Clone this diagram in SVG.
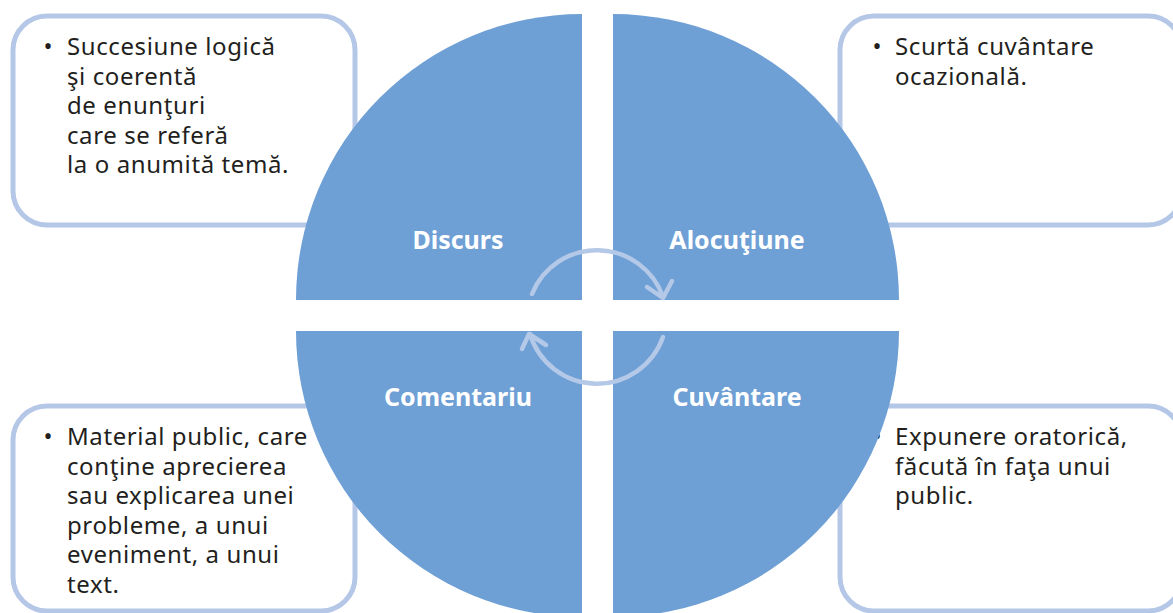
<svg xmlns="http://www.w3.org/2000/svg" width="1173" height="613" viewBox="0 0 1173 613">
<style>
.box{fill:#ffffff;stroke:#b4c7e7;stroke-width:5}
.quad{fill:#6e9fd5}
.body{font-family:"Noto Sans","Open Sans","DejaVu Sans",sans-serif;font-size:24px;letter-spacing:0.6px;fill:#231f20}
.bul{text-anchor:middle;letter-spacing:0}
.label{font-family:"Noto Sans","Open Sans","DejaVu Sans",sans-serif;font-size:25px;font-weight:bold;fill:#ffffff;text-anchor:middle}
.cyc{fill:none;stroke:#b4c8e8;stroke-width:4.5;stroke-linecap:round;stroke-linejoin:round}
</style>
<rect width="1173" height="613" fill="#ffffff"/>
<g id="box-discurs">
<rect class="box" x="13" y="16" width="342" height="209" rx="34"/>
<text class="body"><tspan class="bul" x="48" y="55">•</tspan><tspan x="67" y="55">Succesiune logică</tspan><tspan x="67" y="84.5">şi coerentă</tspan><tspan x="67" y="114">de enunţuri</tspan><tspan x="67" y="143.5">care se referă</tspan><tspan x="67" y="173">la o anumită temă.</tspan></text>
</g>
<g id="box-alocutiune">
<rect class="box" x="840" y="16" width="342" height="209" rx="34"/>
<text class="body"><tspan class="bul" x="877" y="55">•</tspan><tspan x="895" y="55">Scurtă cuvântare</tspan><tspan x="895" y="84.5">ocazională.</tspan></text>
</g>
<g id="box-comentariu">
<rect class="box" x="13" y="406" width="342" height="205" rx="34"/>
<text class="body"><tspan class="bul" x="48" y="445">•</tspan><tspan x="67" y="445">Material public, care</tspan><tspan x="67" y="474.5">conţine aprecierea</tspan><tspan x="67" y="504">sau explicarea unei</tspan><tspan x="67" y="533.5">probleme, a unui</tspan><tspan x="67" y="563">eveniment, a unui</tspan><tspan x="67" y="592.5">text.</tspan></text>
</g>
<g id="box-cuvantare">
<rect class="box" x="840" y="406" width="342" height="205" rx="34"/>
<text class="body"><tspan class="bul" x="877" y="445">•</tspan><tspan x="895" y="445">Expunere oratorică,</tspan><tspan x="895" y="474.5">făcută în faţa unui</tspan><tspan x="895" y="504">public.</tspan></text>
</g>
<g id="node-discurs">
<path class="quad" d="M582,300 L296,300 A286,286 0 0,1 582,14 Z"/>
<text class="label" x="458" y="249">Discurs</text>
</g>
<g id="node-alocutiune">
<path class="quad" d="M613,300 L613,14 A286,286 0 0,1 899,300 Z"/>
<text class="label" x="737" y="249">Alocuţiune</text>
</g>
<g id="node-comentariu">
<path class="quad" d="M582,331 L582,617 A286,286 0 0,1 296,331 Z"/>
<text class="label" x="458" y="406">Comentariu</text>
</g>
<g id="node-cuvantare">
<path class="quad" d="M613,331 L899,331 A286,286 0 0,1 613,617 Z"/>
<text class="label" x="737" y="406">Cuvântare</text>
</g>
<g id="connectors">
<path class="cyc" d="M532,294 A70,70 0 0,1 663,297"/>
<path class="cyc" d="M647,287 L663,298 L672,281"/>
<path class="cyc" d="M663,337 A70,70 0 0,1 530,334"/>
<path class="cyc" d="M522,349 L529,334 L546,345"/>
</g>
</svg>
